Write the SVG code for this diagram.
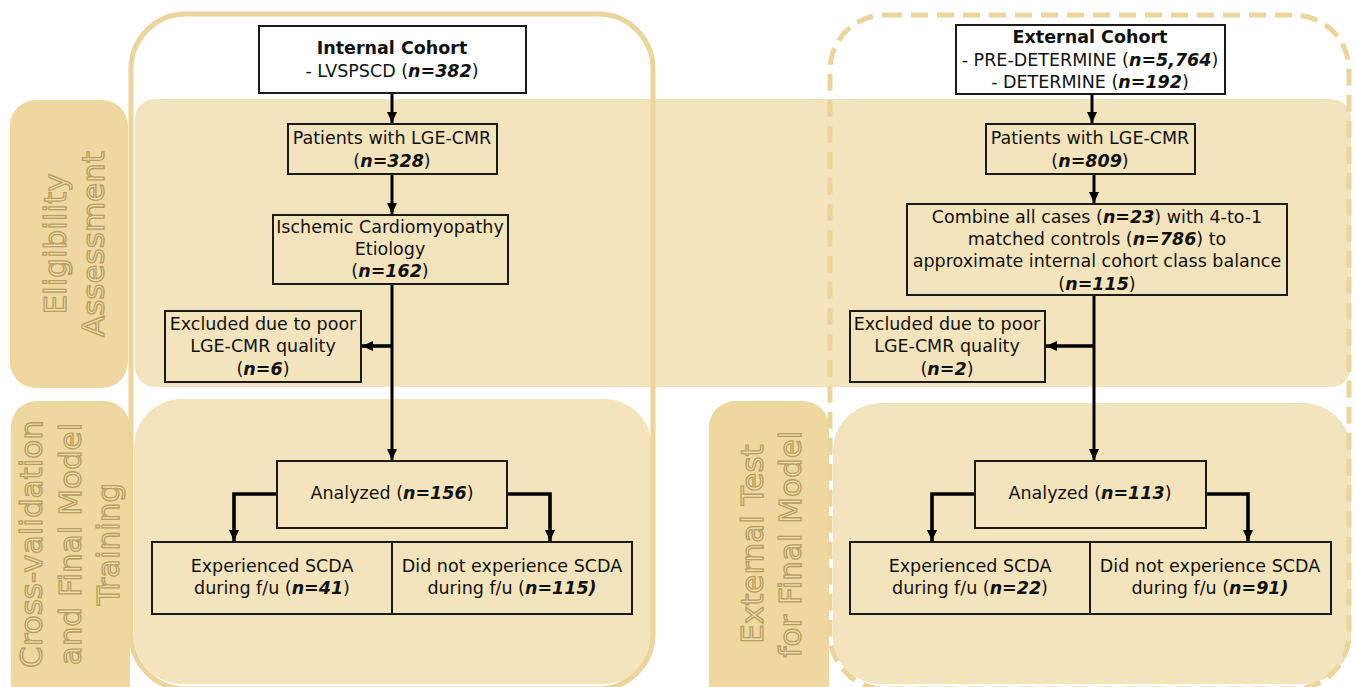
<svg xmlns="http://www.w3.org/2000/svg" width="1355" height="687" viewBox="0 0 1355 687">
<style>
.band{fill:#f4e4bd;stroke:none}
.lab{fill:#eed8a0;stroke:none}
.ltxt{font-family:"DejaVu Sans",sans-serif;font-size:31px;fill:#f0ddac;stroke:#b89d5e;stroke-width:1.3;text-anchor:middle}
.box{fill:none;stroke:#1a1a1a;stroke-width:2}
.wbox{fill:#ffffff;stroke:#1a1a1a;stroke-width:2}
.t{font-family:"DejaVu Sans",sans-serif;font-size:17.5px;fill:#111;text-anchor:middle}
.b{font-weight:bold}
.n{font-weight:bold;font-style:italic}
.c{fill:none;stroke:#000;stroke-width:3}
.cb{fill:none;stroke:#000;stroke-width:3.6}
</style>
<defs>
<marker id="ah" markerWidth="12" markerHeight="12" refX="11" refY="6" orient="auto" markerUnits="userSpaceOnUse">
<path d="M0,1 L11,6 L0,11 Z" fill="#000"/>
</marker>
</defs>
<rect width="1355" height="687" fill="#ffffff"/>
<g id="bands">
<rect class="band" x="135" y="99" width="1216" height="288" rx="20"/>
<rect class="band" x="134" y="399" width="518" height="285" rx="48"/>
<rect class="band" x="833" y="403" width="518" height="281" rx="48"/>
</g>
<g id="label-eligibility">
<rect class="lab" x="10" y="100" width="118" height="288" rx="26"/>
<text class="ltxt" transform="translate(66,244) rotate(-90)">Eligibility</text>
<text class="ltxt" transform="translate(104,244) rotate(-90)">Assessment</text>
</g>
<g id="label-crossval">
<rect class="lab" x="11" y="401" width="119" height="310" rx="26"/>
<text class="ltxt" transform="translate(42,544) rotate(-90)">Cross-validation</text>
<text class="ltxt" transform="translate(81,544) rotate(-90)">and Final Model</text>
<text class="ltxt" transform="translate(119,544) rotate(-90)">Training</text>
</g>
<g id="label-external">
<rect class="lab" x="709" y="401" width="120" height="310" rx="26"/>
<text class="ltxt" transform="translate(763,544) rotate(-90)">External Test</text>
<text class="ltxt" transform="translate(801,544) rotate(-90)">for Final Model</text>
</g>
<g id="cohort-outlines">
<rect x="131" y="14" width="522" height="675" rx="55" fill="none" stroke="#ebd59c" stroke-width="5"/>
<rect x="830" y="15" width="519" height="674" rx="55" fill="none" stroke="#ebd59c" stroke-width="5" stroke-dasharray="17 9"/>
</g>
<g id="connectors">
<line class="c" x1="392" y1="93" x2="392" y2="123" marker-end="url(#ah)"/>
<line class="c" x1="392" y1="175" x2="392" y2="214" marker-end="url(#ah)"/>
<line class="c" x1="392" y1="285" x2="392" y2="460" marker-end="url(#ah)"/>
<line class="cb" x1="392" y1="346" x2="362" y2="346" marker-end="url(#ah)"/>
<polyline class="cb" points="277,494 234,494 234,541" marker-end="url(#ah)"/>
<polyline class="cb" points="507,494 550,494 550,541" marker-end="url(#ah)"/>
<line class="c" x1="1092" y1="95" x2="1092" y2="123" marker-end="url(#ah)"/>
<line class="c" x1="1094" y1="175" x2="1094" y2="203" marker-end="url(#ah)"/>
<line class="c" x1="1094" y1="296" x2="1094" y2="460" marker-end="url(#ah)"/>
<line class="cb" x1="1094" y1="346" x2="1046" y2="346" marker-end="url(#ah)"/>
<polyline class="cb" points="975,494 932,494 932,541" marker-end="url(#ah)"/>
<polyline class="cb" points="1207,494 1248,494 1248,541" marker-end="url(#ah)"/>
</g>
<g id="internal-cohort">
<rect class="wbox" x="259" y="26" width="267" height="67"/>
<text class="t b" x="392" y="54">Internal Cohort</text>
<text class="t" x="392" y="77">- LVSPSCD (<tspan class="n">n=382</tspan>)</text>
</g>
<g id="int-lge">
<rect class="box" x="288" y="124" width="209" height="50"/>
<text class="t" x="392" y="144">Patients with LGE-CMR</text>
<text class="t" x="392" y="167">(<tspan class="n">n=328</tspan>)</text>
</g>
<g id="int-ischemic">
<rect class="box" x="273" y="215" width="235" height="69"/>
<text class="t" x="390" y="233">Ischemic Cardiomyopathy</text>
<text class="t" x="390" y="255">Etiology</text>
<text class="t" x="390" y="277">(<tspan class="n">n=162</tspan>)</text>
</g>
<g id="int-excluded">
<rect class="box" x="165" y="311" width="196" height="71"/>
<text class="t" x="263" y="330">Excluded due to poor</text>
<text class="t" x="263" y="352">LGE-CMR quality</text>
<text class="t" x="263" y="375">(<tspan class="n">n=6</tspan>)</text>
</g>
<g id="int-analyzed">
<rect class="box" x="277" y="461" width="230" height="67"/>
<text class="t" x="392" y="499">Analyzed (<tspan class="n">n=156</tspan>)</text>
</g>
<g id="int-scda">
<rect class="box" x="152" y="542" width="240" height="72"/>
<text class="t" x="272" y="572">Experienced SCDA</text>
<text class="t" x="272" y="594">during f/u (<tspan class="n">n=41</tspan>)</text>
</g>
<g id="int-noscda">
<rect class="box" x="392" y="542" width="240" height="72"/>
<text class="t" x="512" y="572">Did not experience SCDA</text>
<text class="t" x="512" y="594">during f/u (<tspan class="n">n=115)</tspan></text>
</g>
<g id="external-cohort">
<rect class="wbox" x="956" y="25" width="269" height="69"/>
<text class="t b" x="1090" y="43">External Cohort</text>
<text class="t" x="1090" y="66">- PRE-DETERMINE (<tspan class="n">n=5,764</tspan>)</text>
<text class="t" x="1090" y="88">- DETERMINE (<tspan class="n">n=192</tspan>)</text>
</g>
<g id="ext-lge">
<rect class="box" x="986" y="124" width="209" height="50"/>
<text class="t" x="1090" y="144">Patients with LGE-CMR</text>
<text class="t" x="1090" y="167">(<tspan class="n">n=809</tspan>)</text>
</g>
<g id="ext-combine">
<rect class="box" x="907" y="204" width="380" height="91"/>
<text class="t" x="1097" y="223">Combine all cases (<tspan class="n">n=23</tspan>) with 4-to-1</text>
<text class="t" x="1097" y="245">matched controls (<tspan class="n">n=786</tspan>) to</text>
<text class="t" x="1097" y="267">approximate internal cohort class balance</text>
<text class="t" x="1097" y="290">(<tspan class="n">n=115</tspan>)</text>
</g>
<g id="ext-excluded">
<rect class="box" x="850" y="311" width="195" height="71"/>
<text class="t" x="947" y="330">Excluded due to poor</text>
<text class="t" x="947" y="352">LGE-CMR quality</text>
<text class="t" x="947" y="375">(<tspan class="n">n=2</tspan>)</text>
</g>
<g id="ext-analyzed">
<rect class="box" x="975" y="461" width="231" height="67"/>
<text class="t" x="1090" y="499">Analyzed (<tspan class="n">n=113</tspan>)</text>
</g>
<g id="ext-scda">
<rect class="box" x="850" y="542" width="240" height="72"/>
<text class="t" x="970" y="572">Experienced SCDA</text>
<text class="t" x="970" y="594">during f/u (<tspan class="n">n=22</tspan>)</text>
</g>
<g id="ext-noscda">
<rect class="box" x="1090" y="542" width="241" height="72"/>
<text class="t" x="1210" y="572">Did not experience SCDA</text>
<text class="t" x="1210" y="594">during f/u (<tspan class="n">n=91)</tspan></text>
</g>
</svg>
